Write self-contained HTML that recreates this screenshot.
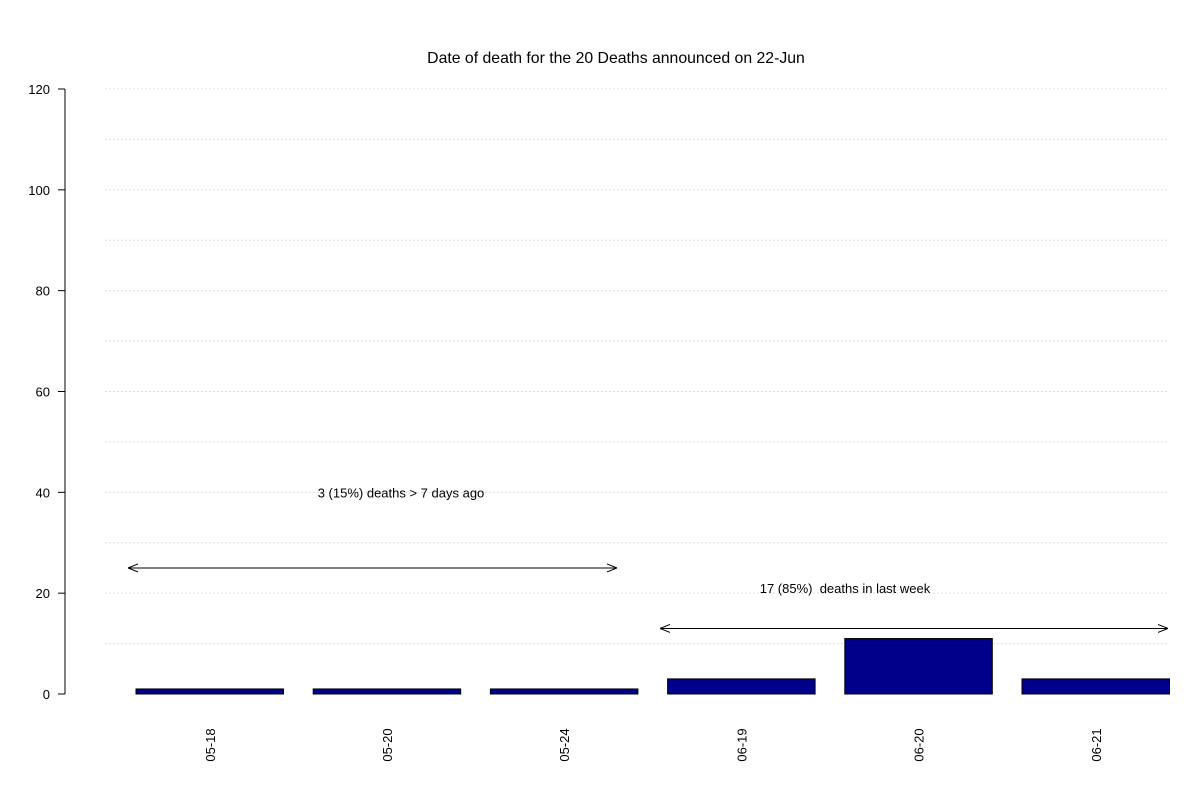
<!DOCTYPE html>
<html><head><meta charset="utf-8"><style>
body{margin:0;background:#fff;}
svg text{font-family:"Liberation Sans",Arial,sans-serif;font-size:13px;fill:#000;}
</style></head><body>
<svg id="chart" width="1200" height="800" xmlns="http://www.w3.org/2000/svg">
<defs><marker id="ah" viewBox="0 0 10 10" refX="10" refY="5" markerWidth="10" markerHeight="10" orient="auto-start-reverse" markerUnits="userSpaceOnUse"><path d="M0,1 L10,5 L0,9" fill="none" stroke="#000" stroke-width="1"/></marker></defs>
<text x="616" y="63" text-anchor="middle" style="font-size:15.8px">Date of death for the 20 Deaths announced on 22-Jun</text>
<g id="grid"></g><g id="yaxis"></g><g id="bars"></g><g id="xlabels"></g><g id="annot"></g>
</svg>
<script>
const categories=["05-18","05-20","05-24","06-19","06-20","06-21"];
const deaths=[1,1,1,3,11,3];
const yTicks=[0,20,40,60,80,100,120];
const gridVals=[10,20,30,40,50,60,70,80,90,100,110,120];
const ns="http://www.w3.org/2000/svg";
const y=v=>694-v*(605/120);
const x=i=>136+i*177.2;
const bw=147.5;
function mk(t,a,p){const e=document.createElementNS(ns,t);for(const k in a)e.setAttribute(k,a[k]);p.appendChild(e);return e;}
const grid=document.getElementById('grid');
gridVals.forEach(v=>{const l=mk('line',{x1:105,x2:1167,y1:y(v),y2:y(v),stroke:'#dcdcdc','stroke-dasharray':'2,2'},grid);

});
const ya=document.getElementById('yaxis');
const axl=mk('line',{x1:65,x2:65,y1:y(120),y2:y(0),stroke:'#000'},ya);


yTicks.forEach(v=>{mk('line',{x1:58,x2:65,y1:y(v),y2:y(v),stroke:'#000'},ya);
const t=mk('text',{x:50,y:y(v)+5,'text-anchor':'end'},ya);t.textContent=v;

});
const bars=document.getElementById('bars'),xl=document.getElementById('xlabels');
categories.forEach((c,i)=>{const r=mk('rect',{x:x(i),y:y(deaths[i]),width:bw,height:y(0)-y(deaths[i]),fill:'#00008b',stroke:'#000'},bars);


const cx=x(i)+bw/2+5;const t=mk('text',{x:cx,y:745,'text-anchor':'middle',transform:`rotate(-90 ${cx} 745)`},xl);t.textContent=c;

});
const an=document.getElementById('annot');
const a1=mk('line',{x1:128,x2:617,y1:y(25),y2:y(25),stroke:'#000','marker-start':'url(#ah)','marker-end':'url(#ah)'},an);


const t1=mk('text',{x:401,y:y(40)+5,'text-anchor':'middle'},an);t1.textContent='3 (15%) deaths > 7 days ago';


const a2=mk('line',{x1:660,x2:1168,y1:y(13),y2:y(13),stroke:'#000','marker-start':'url(#ah)','marker-end':'url(#ah)'},an);


const t2=mk('text',{x:845,y:y(21)+5,'text-anchor':'middle'},an);t2.textContent='17 (85%)  deaths in last week';t2.style.whiteSpace='pre';


</script>
</body></html>
